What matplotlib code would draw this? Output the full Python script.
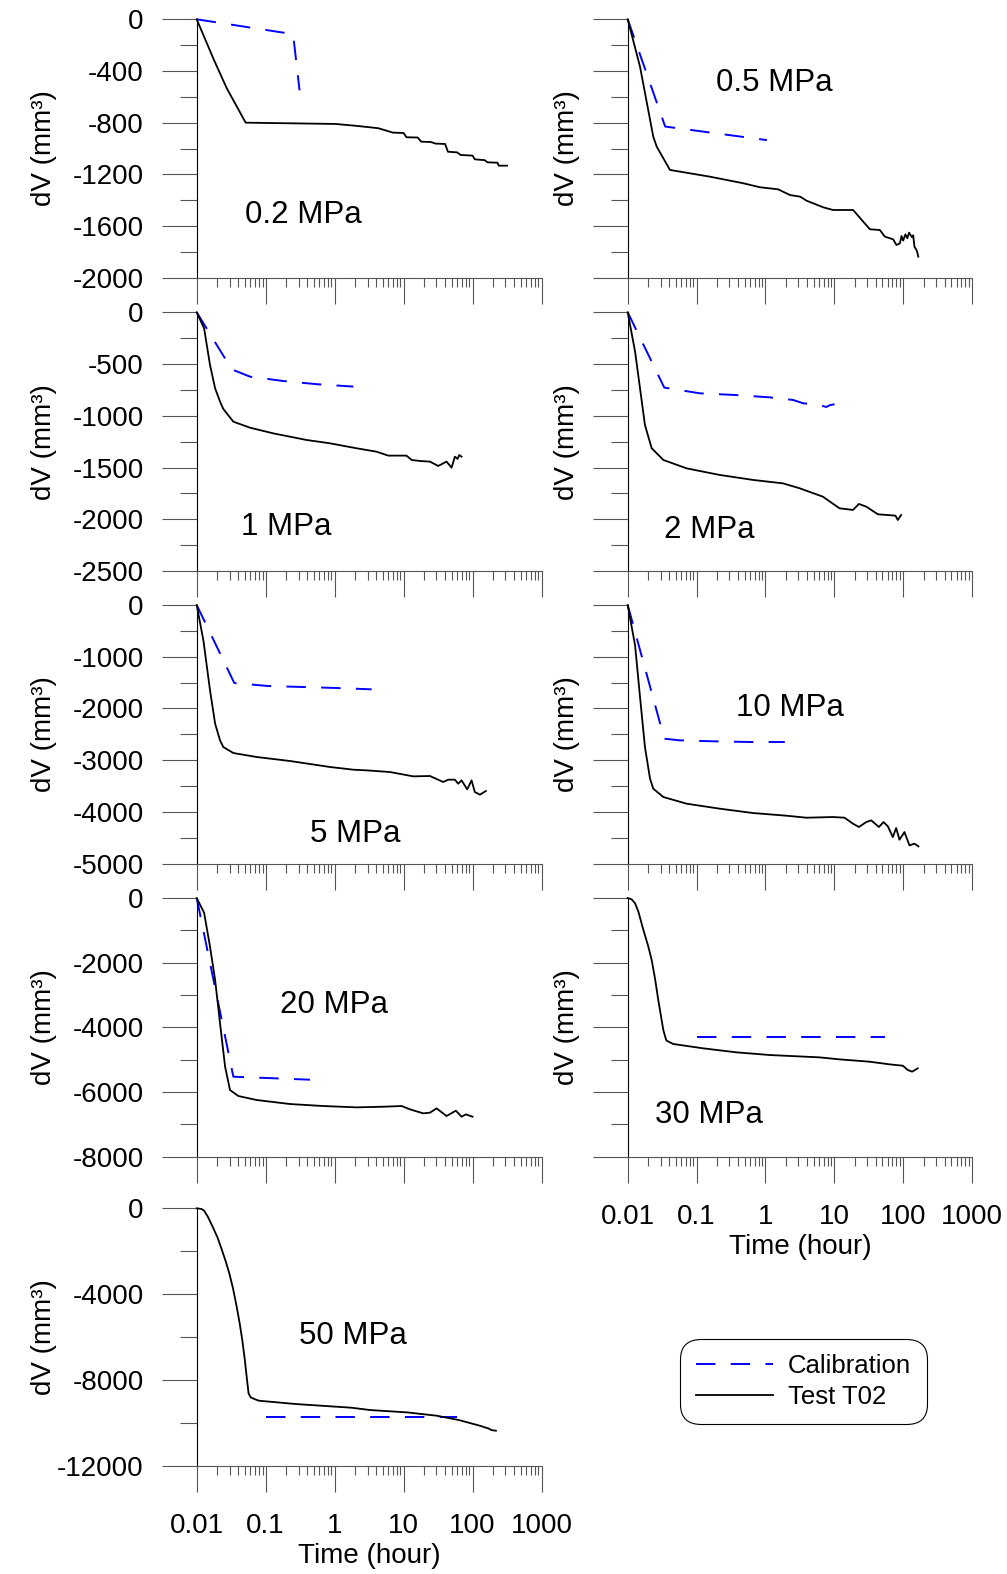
import matplotlib
matplotlib.use("Agg")
import matplotlib.pyplot as plt
from matplotlib.lines import Line2D
from matplotlib.ticker import MultipleLocator, LogLocator, NullFormatter

plt.rcParams["font.family"] = ["Liberation Sans", "DejaVu Sans"]
plt.rcParams["axes.unicode_minus"] = False
plt.rcParams["lines.scale_dashes"] = False

# ------------------------------------------------------------
# DATA (time in hours, dV in mm3)
# ------------------------------------------------------------

# 0.2 MPa
t_02 = [0.01, 0.0178, 0.0273, 0.0513, 1.03, 2.1, 4.3, 7.0, 10.0, 11.0, 16.0, 18.0,
        25.0, 29.0, 40.0, 44.0, 60.0, 67.0, 100.0, 108.0, 150.0, 164.0, 230.0, 240.0, 316.0]
v_02 = [0, -315, -534, -800, -810, -825, -843, -877, -880, -913, -915, -947,
        -950, -962, -965, -1025, -1030, -1050, -1055, -1084, -1090, -1107, -1110, -1133, -1133]
tc_02 = [0.01, 0.25, 0.31]
vc_02 = [0, -115, -550]

# 0.5 MPa
t_05 = [0.01, 0.0151, 0.0235, 0.0264, 0.0411, 0.0574, 0.156, 0.476, 0.832, 1.53, 2.27,
        3.2, 3.96, 6.9, 9.6, 18.8, 26.3, 32.9, 45.9, 54.2, 71.6, 80.0, 89.6, 94.8, 100.0,
        108.0, 115.0, 122.0, 134.0, 140.0, 146.0, 158.0, 166.0]
v_05 = [0, -367, -908, -986, -1166, -1179, -1218, -1269, -1300, -1316, -1360,
        -1373, -1404, -1455, -1476, -1476, -1566, -1625, -1631, -1682, -1703, -1747, -1734, -1677, -1713,
        -1664, -1695, -1651, -1687, -1672, -1760, -1791, -1837]
tc_05 = [0.01, 0.035, 1.05]
vc_05 = [0, -830, -935]

# 1 MPa
t_1 = [0.01, 0.0128, 0.0156, 0.0185, 0.0218, 0.0243, 0.034, 0.0593, 0.129, 0.393, 0.855,
       2.08, 4.06, 6.0, 11.0, 13.1, 17.3, 24.1, 31.8, 42.0, 49.6, 55.5, 60.7, 64.1, 69.3]
v_1 = [0, -155, -509, -735, -863, -934, -1057, -1115, -1170, -1234, -1266,
       -1314, -1347, -1385, -1385, -1427, -1437, -1443, -1485, -1443, -1501, -1395, -1417, -1379, -1395]
tc_1 = [0.01, 0.0322, 0.0593, 0.18, 0.58, 1.87]
vc_1 = [0, -551, -622, -664, -696, -718]

# 2 MPa
t_2 = [0.01, 0.0128, 0.0151, 0.0178, 0.0223, 0.0329, 0.0716, 0.218, 0.662, 1.8, 3.15,
       6.85, 11.9, 18.7, 22.8, 29.1, 43.0, 77.4, 83.7, 93.5]
v_2 = [0, -380, -735, -1089, -1314, -1427, -1508, -1572, -1620, -1653, -1701,
       -1782, -1894, -1910, -1852, -1878, -1952, -1965, -2007, -1959]
tc_2 = [0.01, 0.034, 0.112, 0.36, 1.16, 2.52, 3.52, 6.1, 7.65, 8.75, 10.1]
vc_2 = [0, -728, -783, -799, -822, -847, -879, -896, -915, -896, -889]

# 5 MPa
t_5 = [0.01, 0.0125, 0.0156, 0.0185, 0.0218, 0.0243, 0.034, 0.0741, 0.225, 0.855, 1.87,
       2.91, 6.34, 13.8, 24.1, 37.6, 44.4, 55.5, 62.0, 69.3, 83.7, 96.8, 108.0, 128.0, 156.0]
v_5 = [0, -683, -1649, -2294, -2616, -2745, -2861, -2938, -3015, -3131, -3183,
       -3196, -3228, -3312, -3305, -3421, -3376, -3376, -3454, -3389, -3563, -3389, -3615, -3666, -3595]
tc_5 = [0.01, 0.0351, 0.109, 0.351, 1.07, 3.44]
vc_5 = [0, -1508, -1566, -1585, -1604, -1630]

# 10 MPa
t_10 = [0.01, 0.0128, 0.0151, 0.0178, 0.0211, 0.0235, 0.0329, 0.0716, 0.218, 0.662, 2.01,
        3.93, 9.57, 14.1, 18.7, 22.8, 29.1, 34.4, 44.4, 51.9, 60.0, 70.8, 79.2, 88.5,
        104.5, 123.5, 146.0, 167.0]
v_10 = [0, -780, -1778, -2745, -3357, -3550, -3711, -3840, -3937, -4021, -4072,
        -4111, -4098, -4111, -4227, -4291, -4195, -4162, -4291, -4195, -4278, -4485, -4311, -4536,
        -4388, -4646, -4613, -4665]
tc_10 = [0.01, 0.034, 0.0573, 0.184, 0.593, 1.91]
vc_10 = [0, -2584, -2616, -2635, -2648, -2648]

# 20 MPa
t_20 = [0.01, 0.0128, 0.0156, 0.0185, 0.0218, 0.0258, 0.0304, 0.0402, 0.0741, 0.225, 0.685,
        2.08, 5.07, 9.36, 12.4, 19.3, 24.1, 30.1, 42.0, 57.3, 69.3, 80.0, 100.0]
v_20 = [0, -454, -1505, -2536, -3876, -5216, -5938, -6124, -6247, -6371, -6433,
        -6474, -6454, -6433, -6536, -6660, -6639, -6505, -6742, -6577, -6763, -6691, -6763]
tc_20 = [0.01, 0.034, 0.439]
vc_20 = [0, -5526, -5619]

# 30 MPa
t_30 = [0.01, 0.0114, 0.0128, 0.0143, 0.0169, 0.01995, 0.0223, 0.0249, 0.0278, 0.0311,
        0.0329, 0.0356, 0.0367, 0.0459, 0.125, 0.38, 1.16,
        6.12, 11.9, 32.5, 63.4, 98.9, 117.0, 135.0, 163.0]
v_30 = [0, -41, -165, -423, -990, -1505, -1918, -2485, -3155, -3773,
        -4082, -4340, -4412, -4515, -4649, -4773, -4856,
        -4928, -4990, -5062, -5144, -5186, -5320, -5371, -5268]
tc_30 = [0.1, 55.0]
vc_30 = [-4290, -4290]

# 50 MPa
t_50 = [0.01, 0.01175, 0.0128, 0.01449, 0.017, 0.02, 0.0232, 0.02624, 0.0297, 0.0336, 0.038,
        0.042, 0.0458, 0.0499, 0.0537, 0.0565, 0.0608, 0.0706, 0.0798, 0.275,
        1.76, 3.26, 11.2, 30.2, 63.4, 133.0, 150.0, 170.0, 190.0, 218.0]
v_50 = [0, -31, -109, -388, -854, -1351, -1941, -2453, -3028, -3727, -4581,
        -5357, -6134, -7065, -7997, -8618, -8804, -8898, -8960, -9115,
        -9286, -9394, -9503, -9658, -9860, -10140, -10200, -10250, -10330, -10357]
tc_50 = [0.1, 60.0]
vc_50 = [-9720, -9720]

x_ticks = [0.01, 0.1, 1, 10, 100, 1000]
x_tick_labels = ["0.01", "0.1", "1", "10", "100", "1000"]

# ------------------------------------------------------------
# LAYOUT (pixel boxes of the axes in the 1007x1574 figure)
# ------------------------------------------------------------

W, H = 1007, 1574
ROWS = [(19.3, 277.7), (312.3, 571.0), (605.0, 863.7), (898.0, 1156.7), (1208.3, 1466.0)]
COLS = [(196.7, 541.5), (627.7, 972.0)]

TICK_C = "#555555"
BLUE = "#0000ff"
DASH = (0, (14, 11))

# col, row, ymin, major step, label text, label pos (axes frac), data, bottom panel?
panels = [
    (0, 0, -2000, 400, "0.2 MPa", (0.310, 0.212), t_02, v_02, tc_02, vc_02, False),
    (1, 0, -2000, 400, "0.5 MPa", (0.426, 0.722), t_05, v_05, tc_05, vc_05, False),
    (0, 1, -2500, 500, "1 MPa", (0.260, 0.139), t_1, v_1, tc_1, vc_1, False),
    (1, 1, -2500, 500, "2 MPa", (0.236, 0.128), t_2, v_2, tc_2, vc_2, False),
    (0, 2, -5000, 1000, "5 MPa", (0.460, 0.084), t_5, v_5, tc_5, vc_5, False),
    (1, 2, -5000, 1000, "10 MPa", (0.471, 0.571), t_10, v_10, tc_10, vc_10, False),
    (0, 3, -8000, 2000, "20 MPa", (0.399, 0.556), t_20, v_20, tc_20, vc_20, False),
    (1, 3, -8000, 2000, "30 MPa", (0.235, 0.130), t_30, v_30, tc_30, vc_30, True),
    (0, 4, -12000, 4000, "50 MPa", (0.454, 0.473), t_50, v_50, tc_50, vc_50, True),
]

fig = plt.figure(figsize=(W / 100, H / 100), dpi=100)

for col, row, ymin, step, text, (tx, ty), t, v, tc, vc, bottom in panels:
    x0, x1 = COLS[col]
    y0, y1 = ROWS[row]
    ax = fig.add_axes([x0 / W, 1 - y1 / H, (x1 - x0) / W, (y1 - y0) / H])

    ax.plot(tc, vc, color=BLUE, lw=1.4, linestyle=DASH, clip_on=False)
    ax.plot(t, v, color="black", lw=1.3, clip_on=False)

    ax.set_xscale("log")
    ax.set_xlim(0.01, 1000)
    ax.set_ylim(ymin, 0)
    ax.set_xticks(x_ticks)
    ax.set_xticklabels(x_tick_labels)
    ax.xaxis.set_minor_locator(LogLocator(base=10, subs=range(2, 10)))
    ax.xaxis.set_minor_formatter(NullFormatter())
    ax.yaxis.set_major_locator(MultipleLocator(step))
    ax.yaxis.set_minor_locator(MultipleLocator(step / 2))

    ax.tick_params(axis="x", which="major", direction="out", length=18.7, width=0.8,
                   color=TICK_C, pad=15, labelsize=20, labelbottom=bottom)
    ax.tick_params(axis="x", which="minor", direction="out", length=6.2, width=0.8, color=TICK_C)
    ax.tick_params(axis="y", which="major", direction="out", length=25.2, width=0.8,
                   color=TICK_C, pad=13, labelsize=20, labelleft=(col == 0))
    ax.tick_params(axis="y", which="minor", direction="out", length=12.6, width=0.8, color=TICK_C)

    for s in ("top", "right"):
        ax.spines[s].set_visible(False)
    ax.spines["left"].set_linewidth(0.8)
    ax.spines["bottom"].set_linewidth(0.8)
    ax.spines["bottom"].set_color(TICK_C)

    ax.set_ylabel("dV (mm³)", fontsize=20)
    ax.yaxis.set_label_coords(-0.405 if col == 0 else -0.139, 0.5)
    if bottom:
        ax.set_xlabel("Time (hour)", fontsize=20, labelpad=3)

    ax.text(tx, ty, text, transform=ax.transAxes, ha="center", va="baseline", fontsize=22.5)

handles = [Line2D([], [], color=BLUE, lw=1.4, linestyle=DASH),
           Line2D([], [], color="black", lw=1.3)]
leg = fig.legend(handles, ["Calibration", "Test T02"], loc="center",
                 bbox_to_anchor=(803.5 / W, 1 - 1381.5 / H), fontsize=18.5,
                 handlelength=3.0, handletextpad=0.6, borderpad=0.6, labelspacing=0.25,
                 frameon=True, fancybox=True, framealpha=1)
leg.get_frame().set_edgecolor("black")
leg.get_frame().set_linewidth(0.8)
leg.get_frame().set_boxstyle("round,pad=0,rounding_size=0.8")

fig.savefig("out.png", dpi=100)
